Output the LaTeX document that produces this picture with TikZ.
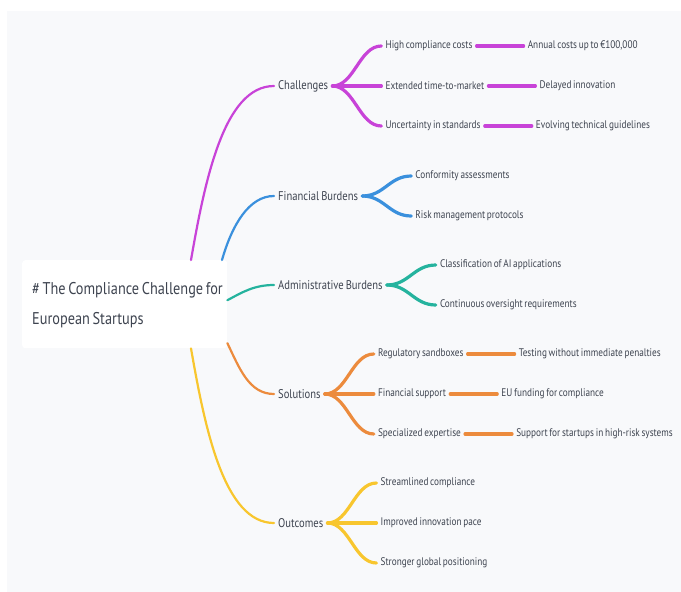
\documentclass[tikz,border=0pt]{standalone}
\usepackage{fontspec}
\setmainfont{PT Sans}[FakeStretch=0.84,WordSpace=0.7]
\usepackage{tikz}
\usetikzlibrary{positioning}
\definecolor{pagebg}{HTML}{F8F9FB}
\definecolor{inkgray}{HTML}{3E4450}
\definecolor{brpurple}{HTML}{C843D8}
\definecolor{brblue}{HTML}{3A90DD}
\definecolor{brteal}{HTML}{25B39E}
\definecolor{brorange}{HTML}{EC8B3D}
\definecolor{bryellow}{HTML}{F8C62E}

\begin{document}
\begin{tikzpicture}[x=1pt,y=-1pt,node distance=47pt,
 lbl/.style={anchor=west,inner xsep=4pt,inner ysep=2pt,text=inkgray,font=\fontsize{11}{13}\selectfont},
 topic/.style={lbl,font=\fontsize{12.6}{15}\selectfont},
 rootbox/.style={anchor=north west,fill=white,rounded corners=3pt,minimum width=205pt,minimum height=88pt},
 roottxt/.style={inner xsep=8pt,inner ysep=0pt,align=left,text=inkgray,font=\fontsize{17}{30}\selectfont},
 trunk/.style={line width=2.2pt,line cap=round},
 twig/.style={line width=3.2pt,line cap=round}]
\useasboundingbox[fill=white] (0,0) rectangle (681,592);
\fill[pagebg] (7,11) rectangle (681,592);

\node[rootbox] (root) at (22,260) {};
\node[roottxt] (rtitle) [right=2pt of root.west,yshift=-1pt] {\# The Compliance Challenge for\\European Startups};

% main branches
\node[topic] (chal) at (274,86) {Challenges};
\node[topic] (fin) at (274,196) {Financial Burdens};
\node[topic] (adm) at (274,285) {Administrative Burdens};
\node[topic] (sol) at (274,394) {Solutions};
\node[topic] (out) at (274,523) {Outcomes};

% challenges
\node[lbl] (hcc) [right=49pt of chal,yshift=40pt] {High compliance costs};
\node[lbl] (etm) [right=49pt of chal] {Extended time-to-market};
\node[lbl] (uis) [right=49pt of chal,yshift=-40pt] {Uncertainty in standards};
\node[lbl] (acu) [right=of hcc] {Annual costs up to €100,000};
\node[lbl] (din) [right=of etm] {Delayed innovation};
\node[lbl] (etg) [right=of uis] {Evolving technical guidelines};

% financial / administrative
\node[lbl] (cas) [right=49pt of fin,yshift=20pt] {Conformity assessments};
\node[lbl] (rmp) [right=49pt of fin,yshift=-20pt] {Risk management protocols};
\node[lbl] (cai) [right=49pt of adm,yshift=20pt] {Classification of AI applications};
\node[lbl] (cor) [right=49pt of adm,yshift=-20pt] {Continuous oversight requirements};

% solutions
\node[lbl] (rsb) [right=49pt of sol,yshift=40pt] {Regulatory sandboxes};
\node[lbl] (fsp) [right=49pt of sol] {Financial support};
\node[lbl] (sex) [right=49pt of sol,yshift=-40pt] {Specialized expertise};
\node[lbl] (twp) [right=of rsb] {Testing without immediate penalties};
\node[lbl] (euf) [right=of fsp] {EU funding for compliance};
\node[lbl] (sfs) [right=of sex] {Support for startups in high-risk systems};

% outcomes
\node[lbl] (stc) [right=49pt of out,yshift=40pt] {Streamlined compliance};
\node[lbl] (iip) [right=49pt of out] {Improved innovation pace};
\node[lbl] (sgp) [right=49pt of out,yshift=-40pt] {Stronger global positioning};

% root edges
\draw[trunk,brpurple] ([xshift=169pt]root.north west) .. controls +(14,-80) and +(-50,0) .. (chal.west);
\draw[trunk,brblue] ([xshift=200pt]root.north west) .. controls +(10,-35) and +(-25,0) .. (fin.west);
\draw[trunk,brteal] ([yshift=4pt]root.east) .. controls +(15,-8) and +(-20,0) .. (adm.west);
\draw[trunk,brorange] ([yshift=-39pt]root.east) .. controls +(12,25) and +(-25,0) .. (sol.west);
\draw[trunk,bryellow] ([xshift=169pt]root.south west) .. controls +(14,80) and +(-50,0) .. (out.west);

% branch edges
\draw[twig,brpurple] (chal.east) .. controls +(22,0) and +(-22,0) .. (hcc.west);
\draw[twig,brpurple] (chal.east) -- (etm.west);
\draw[twig,brpurple] (chal.east) .. controls +(22,0) and +(-22,0) .. (uis.west);
\draw[twig,brpurple] (hcc) -- (acu);
\draw[twig,brpurple] (etm) -- (din);
\draw[twig,brpurple] (uis) -- (etg);
\draw[twig,brblue] (fin.east) .. controls +(22,0) and +(-22,0) .. (cas.west);
\draw[twig,brblue] (fin.east) .. controls +(22,0) and +(-22,0) .. (rmp.west);
\draw[twig,brteal] (adm.east) .. controls +(22,0) and +(-22,0) .. (cai.west);
\draw[twig,brteal] (adm.east) .. controls +(22,0) and +(-22,0) .. (cor.west);
\draw[twig,brorange] (sol.east) .. controls +(22,0) and +(-22,0) .. (rsb.west);
\draw[twig,brorange] (sol.east) -- (fsp.west);
\draw[twig,brorange] (sol.east) .. controls +(22,0) and +(-22,0) .. (sex.west);
\draw[twig,brorange] (rsb) -- (twp);
\draw[twig,brorange] (fsp) -- (euf);
\draw[twig,brorange] (sex) -- (sfs);
\draw[twig,bryellow] (out.east) .. controls +(22,0) and +(-22,0) .. (stc.west);
\draw[twig,bryellow] (out.east) -- (iip.west);
\draw[twig,bryellow] (out.east) .. controls +(22,0) and +(-22,0) .. (sgp.west);
\end{tikzpicture}
\end{document}
